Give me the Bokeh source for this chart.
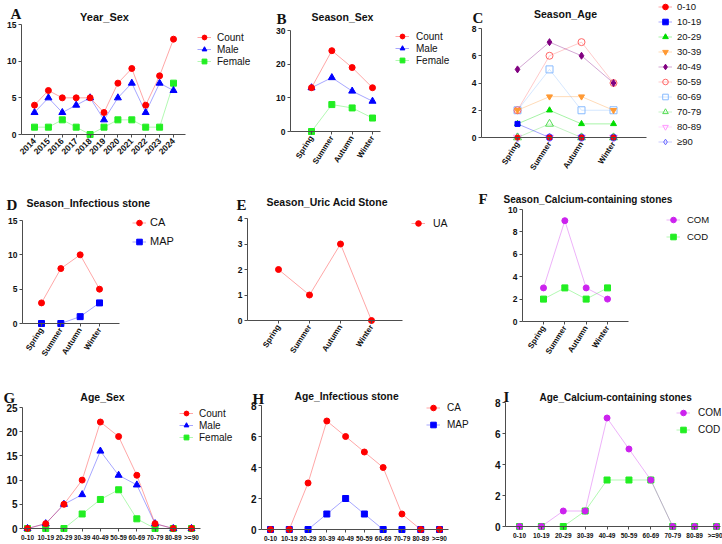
import math
from bokeh.plotting import figure
from bokeh.models import Range1d, FixedTicker, Label, Legend, LegendItem
from bokeh.layouts import column, row
from bokeh.embed import file_html
from bokeh.resources import INLINE

# ---------------- data ----------------
years = ["2014", "2015", "2016", "2017", "2018", "2019", "2020", "2021", "2022", "2023", "2024"]
a_count = [4, 6, 5, 5, 5, 3, 7, 9, 4, 8, 13]
a_male = [3, 5, 3, 4, 5, 2, 5, 7, 3, 7, 6]
a_female = [1, 1, 2, 1, 0, 1, 2, 2, 1, 1, 7]

seasons = ["Spring", "Summer", "Autumn", "Winter"]
b_count = [13, 24, 19, 13]
b_male = [13, 16, 12, 9]
b_female = [0, 8, 7, 4]

c_groups = ["0-10", "10-19", "20-29", "30-39", "40-49", "50-59", "60-69", "70-79", "80-89", "\u226590"]
c_0_10 = [0, 0, 0, 0]
c_10_19 = [1, 0, 0, 0]
c_20_29 = [1, 2, 1, 1]
c_30_39 = [2, 3, 3, 2]
c_40_49 = [5, 7, 6, 4]
c_50_59 = [2, 6, 7, 4]
c_60_69 = [2, 5, 2, 2]
c_70_79 = [0, 1, 0, 0]
c_80_89 = [0, 0, 0, 0]
c_90 = [0, 0, 0, 0]

d_ca = [3, 8, 10, 5]
d_map = [0, 0, 1, 3]

e_ua = [2, 1, 3, 0]

f_com = [3, 9, 3, 2]
f_cod = [2, 3, 2, 3]

ages = ["0-10", "10-19", "20-29", "30-39", "40-49", "50-59", "60-69", "70-79", "80-89", ">=90"]
g_count = [0, 1, 5, 10, 22, 19, 11, 1, 0, 0]
g_male = [0, 1, 5, 7, 16, 11, 9, 1, 0, 0]
g_female = [0, 0, 0, 3, 6, 8, 2, 0, 0, 0]

h_ca = [0, 0, 3, 7, 6, 5, 4, 1, 0, 0]
h_map = [0, 0, 0, 1, 2, 1, 0, 0, 0, 0]

i_com = [0, 0, 1, 1, 7, 5, 3, 0, 0, 0]
i_cod = [0, 0, 0, 1, 3, 3, 3, 0, 0, 0]

# ---------------- style ----------------
FONT = "Liberation Sans"
SERIF = "Liberation Serif"
RED = "#FF0000"
BLUE = "#0000FF"
GREEN = "#22EE22"
PURPLE = "#CC22EE"
AXC = "#4d4d4d"
TXT = "#111111"


class Panel:
    def __init__(self, W, H, ox, oy, axl, axr, ytop, yzero, ymax, ystep, first, last, labels,
                 xsize=8.5, xangle=math.pi / 4, ysize=8.5):
        n = len(labels)
        self.ox, self.oy, self.W, self.H = ox, oy, W, H
        self.ppc = (last - first) / (n - 1)
        self.ppu = (yzero - ytop) / ymax
        self.first, self.yzero = first, yzero
        X, Y = self.X, self.Y
        p = figure(width=W, height=H, title=None,
                   x_range=Range1d(X(ox), X(ox + W)), y_range=Range1d(Y(oy + H), Y(oy)),
                   output_backend="svg", toolbar_location=None,
                   min_border=0, min_border_left=0, min_border_right=0,
                   min_border_top=0, min_border_bottom=0)
        p.outline_line_color = None
        p.xgrid.visible = False
        p.ygrid.visible = False
        xa = p.xaxis[0]
        ya = p.yaxis[0]
        xa.ticker = FixedTicker(ticks=list(range(n)))
        xa.major_label_overrides = {i: lab for i, lab in enumerate(labels)}
        xa.fixed_location = 0
        xa.bounds = (X(axl), X(axr))
        if xangle:
            xa.major_label_orientation = xangle
        ya.ticker = FixedTicker(ticks=list(range(0, ymax + 1, ystep)))
        ya.fixed_location = X(axl)
        ya.bounds = (0, ymax)
        for ax in (xa, ya):
            ax.axis_line_color = AXC
            ax.axis_line_width = 1
            ax.major_tick_line_color = AXC
            ax.major_tick_out = 3
            ax.major_tick_in = 0
            ax.minor_tick_line_color = None
            ax.major_label_text_font = FONT
            ax.major_label_text_font_style = "bold"
            ax.major_label_text_color = TXT
            ax.major_label_standoff = 2
        xa.major_label_text_font_size = f"{xsize}px"
        ya.major_label_text_font_size = f"{ysize}px"
        self.p = p

    def X(self, px):
        return (px - self.first) / self.ppc

    def Y(self, py):
        return (self.yzero - py) / self.ppu

    def series(self, ys, color, marker, size, fill=True, line_alpha=0.35):
        xs = list(range(len(ys)))
        lr = self.p.line(xs, ys, line_color=color, line_alpha=line_alpha, line_width=1)
        sr = self.p.scatter(xs, ys, marker=marker, size=size,
                            fill_color=color if fill else None, line_color=color, line_width=1)
        return [lr, sr]

    def legend(self, entries, mx, tx, first_row, row_h, size=10):
        n = len(entries)
        gw = 14
        items = [LegendItem(label=lab, renderers=rs) for lab, rs in entries]
        bottom = first_row - row_h / 2 + n * row_h
        leg = Legend(items=items,
                     location=(mx - gw / 2 - self.ox, (self.oy + self.H) - bottom),
                     orientation="vertical",
                     glyph_width=gw, glyph_height=row_h, label_height=row_h,
                     label_standoff=int(round(tx - (mx + gw / 2))),
                     spacing=0, padding=0, margin=0, border_line_color=None,
                     background_fill_alpha=0, label_text_font=FONT,
                     label_text_font_size=f"{size}px", label_text_color=TXT)
        self.p.add_layout(leg, "center")

    def txt(self, x, y, text, size, font=FONT, bold=True, align="left"):
        self.p.add_layout(Label(x=self.X(x), y=self.Y(y), text=text,
                                text_font=font, text_font_size=f"{size}px",
                                text_font_style="bold" if bold else "normal",
                                text_align=align, text_baseline="alphabetic", text_color=TXT))


SA = 1.0  # season label angle

# ---------------- Row 1 ----------------
A = Panel(255, 180, 0, 0, 21, 185, 24, 134, 15, 5, 34, 173, years)
rA_f = A.series(a_female, GREEN, "square", 6)
rA_m = A.series(a_male, BLUE, "triangle", 7)
rA_c = A.series(a_count, RED, "circle", 6)
A.legend([("Count", rA_c), ("Male", rA_m), ("Female", rA_f)], 204, 217, 37, 12)
A.txt(10, 13.5, "A", 15, font=SERIF)
A.txt(104, 16, "Year_Sex", 11, align="center")

B = Panel(211, 180, 255, 0, 290, 380, 30, 131, 30, 10, 311, 372, seasons, xsize=8, xangle=SA)
rB_f = B.series(b_female, GREEN, "square", 6)
rB_m = B.series(b_male, BLUE, "triangle", 7)
rB_c = B.series(b_count, RED, "circle", 6)
B.legend([("Count", rB_c), ("Male", rB_m), ("Female", rB_f)], 402, 416, 36, 12)
B.txt(276, 18, "B", 15, font=SERIF)
B.txt(342, 16, "Season_Sex", 10.5, align="center")

C = Panel(256, 180, 466, 0, 481, 646, 28, 137, 8, 2, 517, 613, seasons, xsize=8, xangle=SA)
c_specs = [
    ("0-10", c_0_10, "#FF0000", "circle", True),
    ("10-19", c_10_19, "#0000FF", "square", True),
    ("20-29", c_20_29, "#00DD00", "triangle", True),
    ("30-39", c_30_39, "#FF9933", "inverted_triangle", True),
    ("40-49", c_40_49, "#800080", "diamond", True),
    ("50-59", c_50_59, "#FF6666", "circle", False),
    ("60-69", c_60_69, "#88BBFF", "square", False),
    ("70-79", c_70_79, "#55DD55", "triangle", False),
    ("80-89", c_80_89, "#FF99FF", "inverted_triangle", False),
    (c_groups[9], c_90, "#6666FF", "diamond", False),
]
c_rend = {}
for lab, ys, col, mk, fill in reversed(c_specs):
    sz = 7 if mk == "diamond" else (6 if "triangle" in mk else 5)
    if not fill:
        sz += 2
    c_rend[lab] = C.series(ys, col, mk, sz, fill=fill)
C.legend([(s[0], c_rend[s[0]]) for s in c_specs], 665, 677, 6, 15, size=9.5)
C.txt(472, 17, "C", 15, font=SERIF)
C.txt(565, 13.5, "Season_Age", 10.5, align="center")

# ---------------- Row 2 ----------------
D = Panel(232, 186, 0, 180, 22, 119, 220, 323, 15, 5, 41, 99, seasons, xsize=8, xangle=SA)
rD_m = D.series(d_map, BLUE, "square", 6)
rD_c = D.series(d_ca, RED, "circle", 6)
D.legend([("CA", rD_c), ("MAP", rD_m)], 139, 150, 222, 19, size=11)
D.txt(6, 204, "D", 15, font=SERIF)
D.txt(26, 202.5, "Season_Infectious stone", 10.5)

E = Panel(238, 186, 232, 180, 247, 402, 218, 320, 4, 1, 278, 371, seasons, xsize=8, xangle=SA)
rE = E.series(e_ua, RED, "circle", 6)
E.legend([("UA", rE)], 418, 433, 223, 14, size=10.5)
E.txt(236, 204, "E", 15, font=SERIF)
E.txt(266, 201.5, "Season_Uric Acid Stone", 10.5)

F = Panel(252, 186, 470, 180, 522, 628, 209, 321, 10, 2, 543, 607, seasons, xsize=8, xangle=SA)
rF_d = F.series(f_cod, GREEN, "square", 6)
rF_c = F.series(f_com, PURPLE, "circle", 6)
F.legend([("COM", rF_c), ("COD", rF_d)], 673, 687, 219, 17, size=9.5)
F.txt(478, 198, "F", 15, font=SERIF)
F.txt(503, 199, "Season_Calcium-containing stones", 10)

# ---------------- Row 3 ----------------
G = Panel(242, 178, 0, 366, 22, 200, 407, 528, 25, 5, 27, 191, ages, xsize=6.5, xangle=0, ysize=10)
rG_f = G.series(g_female, GREEN, "square", 6)
rG_m = G.series(g_male, BLUE, "triangle", 7)
rG_c = G.series(g_count, RED, "circle", 6)
G.legend([("Count", rG_c), ("Male", rG_m), ("Female", rG_f)], 186, 199, 413, 12)
G.txt(3, 397, "G", 15, font=SERIF)
G.txt(102, 396.5, "Age_Sex", 10.5, align="center")

H = Panel(246, 178, 242, 366, 261, 448, 405, 529, 8, 2, 270, 439, ages, xsize=6.5, xangle=0, ysize=10)
rH_m = H.series(h_map, BLUE, "square", 6)
rH_c = H.series(h_ca, RED, "circle", 6)
H.legend([("CA", rH_c), ("MAP", rH_m)], 433, 447, 407, 17)
H.txt(252, 398, "H", 15, font=SERIF)
H.txt(294, 395.5, "Age_Infectious stone", 10.3)

I = Panel(234, 178, 488, 366, 505, 720, 402, 526, 8, 2, 519, 716, ages, xsize=6.5, xangle=0, ysize=10)
rI_d = I.series(i_cod, GREEN, "square", 6)
rI_c = I.series(i_com, PURPLE, "circle", 6)
I.legend([("COM", rI_c), ("COD", rI_d)], 683, 698, 412, 17)
I.txt(503, 396, "I", 15, font=SERIF)
I.txt(539, 397, "Age_Calcium-containing stones", 10)

layout = column(row(A.p, B.p, C.p), row(D.p, E.p, F.p), row(G.p, H.p, I.p))
open("out.html", "w").write(file_html(layout, INLINE))
